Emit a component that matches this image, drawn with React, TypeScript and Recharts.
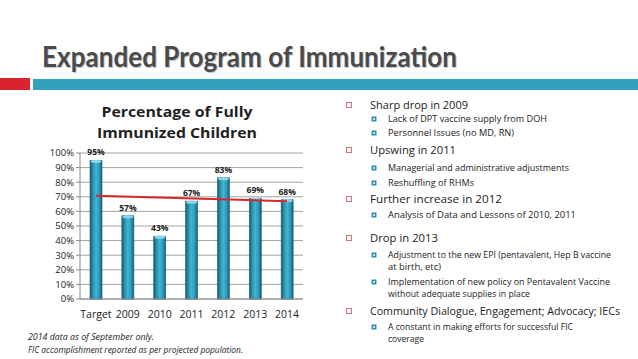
import React from 'react';
import { ComposedChart, Bar, Line, XAxis, YAxis, CartesianGrid, LabelList } from 'recharts';

const categories = ['Target', '2009', '2010', '2011', '2012', '2013', '2014'];
const coverage = [95, 57, 43, 67, 83, 69, 68];
const trend = [70.7, null, null, null, null, null, 67.0];
const yTicks = [0, 10, 20, 30, 40, 50, 60, 70, 80, 90, 100];

const chartTitle = ['Percentage of Fully', 'Immunized Children'];
const footnotes = ['2014 data as of September only.', 'FIC accomplishment reported as per projected population.'];

type Item = { level: number; text: string; y: number; w: number };
const bullets: Item[] = [
  { level: 1, text: 'Sharp drop in 2009', y: 105, w: 98 },
  { level: 2, text: 'Lack of DPT vaccine supply from DOH', y: 119, w: 159 },
  { level: 2, text: 'Personnel Issues (no MD, RN)', y: 133, w: 126 },
  { level: 1, text: 'Upswing in 2011', y: 150, w: 86 },
  { level: 2, text: 'Managerial and administrative adjustments', y: 168, w: 181 },
  { level: 2, text: 'Reshuffling of RHMs', y: 183, w: 86 },
  { level: 1, text: 'Further increase in 2012', y: 199, w: 132 },
  { level: 2, text: 'Analysis of Data and Lessons of 2010, 2011', y: 215, w: 188 },
  { level: 1, text: 'Drop in 2013', y: 238, w: 68 },
  { level: 2, text: 'Adjustment  to the new EPI (pentavalent, Hep B vaccine', y: 255, w: 223 },
  { level: 3, text: 'at birth, etc)', y: 267, w: 53 },
  { level: 2, text: 'Implementation of new policy on Pentavalent Vaccine', y: 282, w: 222 },
  { level: 3, text: 'without adequate supplies in place', y: 294, w: 142 },
  { level: 1, text: 'Community Dialogue, Engagement; Advocacy; IECs', y: 311, w: 250 },
  { level: 2, text: 'A constant in making efforts for successful FIC', y: 327, w: 185 },
  { level: 3, text: 'coverage', y: 339, w: 36 },
];

const data = categories.map((c, i) => ({ name: c, value: coverage[i], trend: trend[i] }));

const CylBar = (props: any) => {
  const { x, y, width, height } = props;
  if (height <= 0) return null;
  return (
    <g>
      <rect x={x} y={y} width={width} height={height} fill="url(#cylGrad)" stroke="#17627a" strokeWidth={0.6} />
      <ellipse cx={x + width / 2} cy={y + 1} rx={width / 2 - 0.5} ry={1.6} fill="#8ad6e8" />
    </g>
  );
};

const bodyFont = '"Open Sans", "DejaVu Sans", sans-serif';

export default function App() {
  return (
    <div style={{ position: 'absolute', left: 0, top: 0, width: 638, height: 359, background: '#ffffff', overflow: 'hidden' }}>
      <div style={{ position: 'absolute', left: 20, top: 95 }}>
        <ComposedChart width={300} height={230} data={data} margin={{ top: 58, right: 17, bottom: 6, left: 20 }} barCategoryGap="10%">
          <defs>
            <linearGradient id="cylGrad" x1="0" y1="0" x2="1" y2="0">
              <stop offset="0%" stopColor="#155c70" />
              <stop offset="25%" stopColor="#2a94b2" />
              <stop offset="50%" stopColor="#44b4d2" />
              <stop offset="78%" stopColor="#2b98b6" />
              <stop offset="100%" stopColor="#145a6e" />
            </linearGradient>
          </defs>
          <CartesianGrid horizontal vertical={false} stroke="#8a8a8a" strokeWidth={0.8} />
          <XAxis
            dataKey="name"
            height={20}
            tickLine={false}
            axisLine={{ stroke: '#8a8a8a' }}
            tick={{ fontSize: 10.5, fill: '#222', fontFamily: bodyFont }}
            tickMargin={6}
            interval={0}
          />
          <YAxis
            width={40}
            domain={[0, 100]}
            ticks={yTicks}
            interval={0}
            tickFormatter={(v: number) => `${v}%`}
            axisLine={{ stroke: '#8a8a8a' }}
            tickLine={{ stroke: '#8a8a8a' }}
            tickSize={4}
            tick={{ fontSize: 9.5, fill: '#222', fontFamily: bodyFont }}
          />
          <Bar dataKey="value" barSize={12} shape={<CylBar />} isAnimationActive={false}>
            <LabelList
              dataKey="value"
              position="top"
              offset={5}
              formatter={(v: any) => `${v}%`}
              style={{ fontSize: 8.5, fontWeight: 700, fill: '#222', fontFamily: bodyFont }}
            />
          </Bar>
          <Line dataKey="trend" stroke="#d8262c" strokeWidth={2} dot={false} connectNulls isAnimationActive={false} />
        </ComposedChart>
      </div>
      <svg width={638} height={359} style={{ position: 'absolute', left: 0, top: 0, pointerEvents: 'none' }}>
        <rect x={0} y={78} width={30} height={12} fill="#d9232e" />
        <rect x={33} y={79} width={605} height={11} fill="#31a1bd" />
        <text x={42} y={67} textLength={415} lengthAdjust="spacingAndGlyphs" fontFamily='Lato, "DejaVu Sans", sans-serif' fontWeight={700} fontSize={28} fill="#c8c8c8" transform="translate(1,1)">Expanded Program of Immunization</text>
        <text x={42} y={67} textLength={415} lengthAdjust="spacingAndGlyphs" fontFamily='Lato, "DejaVu Sans", sans-serif' fontWeight={700} fontSize={28} fill="#4a4a4a">Expanded Program of Immunization</text>
        <text x={177} y={117} textAnchor="middle" textLength={151} lengthAdjust="spacingAndGlyphs" fontFamily={bodyFont} fontWeight={700} fontSize={15} fill="#1f1f1f">{chartTitle[0]}</text>
        <text x={177} y={138} textAnchor="middle" textLength={160} lengthAdjust="spacingAndGlyphs" fontFamily={bodyFont} fontWeight={700} fontSize={15} fill="#1f1f1f">{chartTitle[1]}</text>
        <text x={28} y={340} textLength={126} lengthAdjust="spacingAndGlyphs" fontFamily={bodyFont} fontStyle="italic" fontSize={8.5} fill="#222">{footnotes[0]}</text>
        <text x={28} y={353} textLength={215} lengthAdjust="spacingAndGlyphs" fontFamily={bodyFont} fontStyle="italic" fontSize={8.5} fill="#222">{footnotes[1]}</text>
        {bullets.map((b, i) => {
          const fs = b.level === 1 ? 11 : 8.6;
          const tx = b.level === 1 ? 370 : 388;
          return (
            <g key={i}>
              {b.level === 1 && (
                <rect x={346.5} y={b.y - 2.5} width={5} height={5} fill="none" stroke="#c9787a" strokeWidth={1} />
              )}
              {b.level === 2 && (
                <g>
                  <rect x={371.5} y={b.y - 2.5} width={5} height={5} fill="#2d8fb0" />
                  <rect x={373} y={b.y - 1} width={2} height={2} fill="#bfe6f0" />
                </g>
              )}
              <text x={tx} y={b.y + fs * 0.36} textLength={b.w} lengthAdjust="spacingAndGlyphs" fontFamily={bodyFont} fontSize={fs} fill="#222">{b.text}</text>
            </g>
          );
        })}
      </svg>
    </div>
  );
}
